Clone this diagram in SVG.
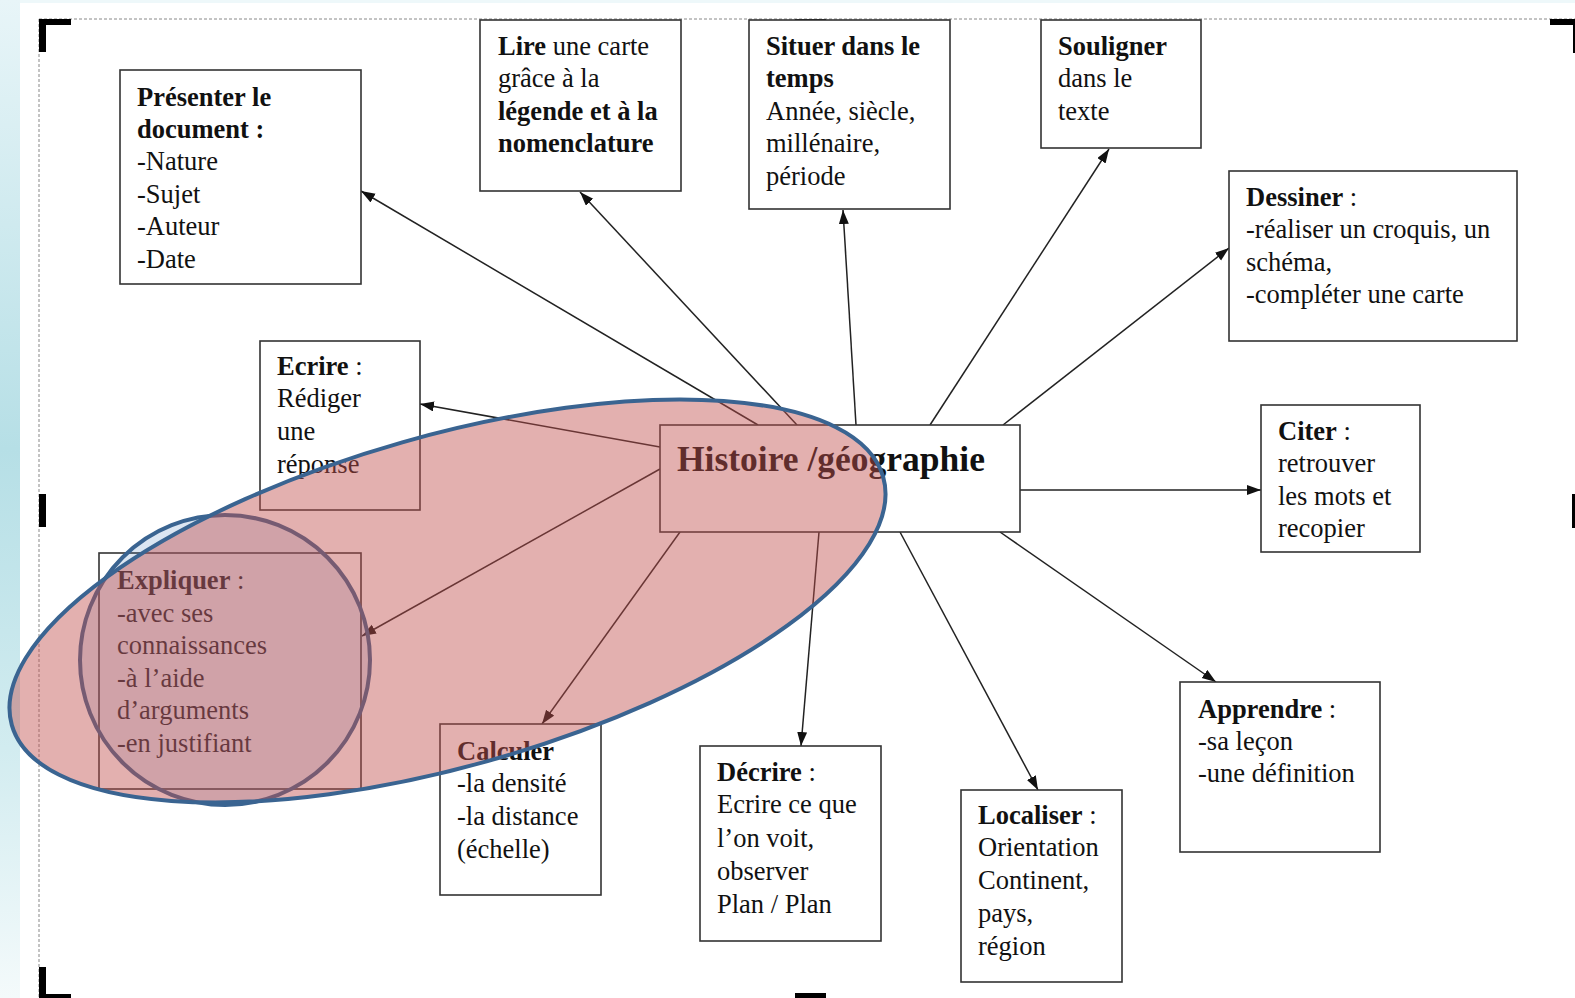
<svg xmlns="http://www.w3.org/2000/svg" width="1575" height="998" viewBox="0 0 1575 998">
<defs>
<linearGradient id="strip" x1="0" y1="0" x2="0" y2="1">
<stop offset="0" stop-color="#e8f5f8"/>
<stop offset="0.45" stop-color="#b6dfe6"/>
<stop offset="0.75" stop-color="#d2ecf0"/>
<stop offset="1" stop-color="#f4fafb"/>
</linearGradient>
<marker id="arr" markerUnits="userSpaceOnUse" markerWidth="15" markerHeight="11" refX="14" refY="5" orient="auto">
<path d="M0,0 L14,5 L0,10 Z" fill="#111"/>
</marker>
<style>
.box{fill:#fff;stroke:#333;stroke-width:1.6}
.t{font-family:"Liberation Serif","Times New Roman",serif;font-size:26.5px;fill:#111}
.b{font-weight:bold}
.c{stroke:#222;stroke-width:1.5;fill:none;marker-end:url(#arr)}
.mk{fill:#000}
</style>
</defs>
<rect x="0" y="0" width="1575" height="998" fill="#ffffff"/>
<rect x="0" y="0" width="20" height="998" fill="url(#strip)"/>
<rect x="20" y="0" width="1555" height="3" fill="#eef8fa"/>
<g id="page-border">
<path d="M39,19 H1575 M39,19 V998" stroke="#888" stroke-width="1" stroke-dasharray="3,2" fill="none"/>
<path class="mk" d="M39,19 H71 V25 H46 V52 H39 Z"/>
<rect class="mk" x="795" y="19" width="31" height="6"/>
<path class="mk" d="M1550,19 H1575 V25 H1550 Z"/>
<rect class="mk" x="1573" y="25" width="2" height="28"/>
<rect class="mk" x="39" y="494" width="7" height="33"/>
<rect class="mk" x="1572" y="494" width="3" height="34"/>
<path class="mk" d="M39,967 H46 V994 H71 V998 H39 Z"/>
<rect class="mk" x="795" y="993" width="31" height="5"/>
</g>
<g id="connectors">
<line class="c" x1="758" y1="425" x2="361" y2="191"/>
<line class="c" x1="797" y1="425" x2="580" y2="192"/>
<line class="c" x1="856" y1="425" x2="843" y2="210"/>
<line class="c" x1="930" y1="425" x2="1109" y2="149"/>
<line class="c" x1="1003" y1="425" x2="1229" y2="248"/>
<line class="c" x1="1020" y1="490" x2="1261" y2="490"/>
<line class="c" x1="660" y1="447" x2="420" y2="404"/>
<line class="c" x1="660" y1="469" x2="362" y2="636"/>
<line class="c" x1="680" y1="532" x2="542" y2="724"/>
<line class="c" x1="819" y1="532" x2="801" y2="746"/>
<line class="c" x1="900" y1="532" x2="1038" y2="790"/>
<line class="c" x1="1000" y1="532" x2="1216" y2="682"/>
</g>
<g id="n-presenter">
<rect class="box" x="120" y="70" width="241" height="214"/>
<text class="t" x="137" y="106"><tspan class="b">Présenter le</tspan><tspan x="137" y="138" class="b">document :</tspan><tspan x="137" y="170">-Nature</tspan><tspan x="137" y="203">-Sujet</tspan><tspan x="137" y="235">-Auteur</tspan><tspan x="137" y="268">-Date</tspan></text>
</g>
<g id="n-lire">
<rect class="box" x="480" y="20" width="201" height="171"/>
<text class="t" x="498" y="55"><tspan class="b">Lire</tspan> une carte<tspan x="498" y="87">grâce à la</tspan><tspan x="498" y="120" class="b">légende et à la</tspan><tspan x="498" y="152" class="b">nomenclature</tspan></text>
</g>
<g id="n-situer">
<rect class="box" x="749" y="20" width="201" height="189"/>
<text class="t" x="766" y="55"><tspan class="b">Situer dans le</tspan><tspan x="766" y="87" class="b">temps</tspan><tspan x="766" y="120">Année, siècle,</tspan><tspan x="766" y="152">millénaire,</tspan><tspan x="766" y="185">période</tspan></text>
</g>
<g id="n-souligner">
<rect class="box" x="1041" y="20" width="160" height="128"/>
<text class="t" x="1058" y="55"><tspan class="b">Souligner</tspan><tspan x="1058" y="87">dans le</tspan><tspan x="1058" y="120">texte</tspan></text>
</g>
<g id="n-dessiner">
<rect class="box" x="1229" y="171" width="288" height="170"/>
<text class="t" x="1246" y="206"><tspan class="b">Dessiner</tspan> :<tspan x="1246" y="238">-réaliser un croquis, un</tspan><tspan x="1246" y="271">schéma,</tspan><tspan x="1246" y="303">-compléter une carte</tspan></text>
</g>
<g id="n-ecrire">
<rect class="box" x="260" y="341" width="160" height="169"/>
<text class="t" x="277" y="375"><tspan class="b">Ecrire</tspan> :<tspan x="277" y="407">Rédiger</tspan><tspan x="277" y="440">une</tspan><tspan x="277" y="473">réponse</tspan></text>
</g>
<g id="n-histoire">
<rect class="box" x="660" y="425" width="360" height="107"/>
<text class="t b" x="677" y="471" style="font-size:35.5px">Histoire /géographie</text>
</g>
<g id="n-citer">
<rect class="box" x="1261" y="405" width="159" height="147"/>
<text class="t" x="1278" y="440"><tspan class="b">Citer</tspan> :<tspan x="1278" y="472">retrouver</tspan><tspan x="1278" y="505">les mots et</tspan><tspan x="1278" y="537">recopier</tspan></text>
</g>
<g id="n-expliquer">
<rect class="box" x="99" y="553" width="262" height="236"/>
<text class="t" x="117" y="589"><tspan class="b">Expliquer</tspan> :<tspan x="117" y="622">-avec ses</tspan><tspan x="117" y="654">connaissances</tspan><tspan x="117" y="687">-à l’aide</tspan><tspan x="117" y="719">d’arguments</tspan><tspan x="117" y="752">-en justifiant</tspan></text>
</g>
<g id="n-calculer">
<rect class="box" x="440" y="724" width="161" height="171"/>
<text class="t" x="457" y="760"><tspan class="b">Calculer</tspan><tspan x="457" y="792">-la densité</tspan><tspan x="457" y="825">-la distance</tspan><tspan x="457" y="858">(échelle)</tspan></text>
</g>
<g id="n-decrire">
<rect class="box" x="700" y="746" width="181" height="195"/>
<text class="t" x="717" y="781"><tspan class="b">Décrire</tspan> :<tspan x="717" y="813">Ecrire ce que</tspan><tspan x="717" y="847">l’on voit,</tspan><tspan x="717" y="880">observer</tspan><tspan x="717" y="913">Plan / Plan</tspan></text>
</g>
<g id="n-localiser">
<rect class="box" x="961" y="790" width="161" height="192"/>
<text class="t" x="978" y="824"><tspan class="b">Localiser</tspan> :<tspan x="978" y="856">Orientation</tspan><tspan x="978" y="889">Continent,</tspan><tspan x="978" y="922">pays,</tspan><tspan x="978" y="955">région</tspan></text>
</g>
<g id="n-apprendre">
<rect class="box" x="1180" y="682" width="200" height="170"/>
<text class="t" x="1198" y="718"><tspan class="b">Apprendre</tspan> :<tspan x="1198" y="750">-sa leçon</tspan><tspan x="1198" y="782">-une définition</tspan></text>
</g>
<g id="highlight">
<circle cx="225" cy="660" r="145" fill="#4f81bd" fill-opacity="0.2" stroke="#3a6491" stroke-width="4"/>
<ellipse cx="447.5" cy="601" rx="453" ry="165" transform="rotate(-15.9 447.5 601)" fill="#c0504d" fill-opacity="0.45" stroke="#3a6491" stroke-width="4"/>
</g>
</svg>
